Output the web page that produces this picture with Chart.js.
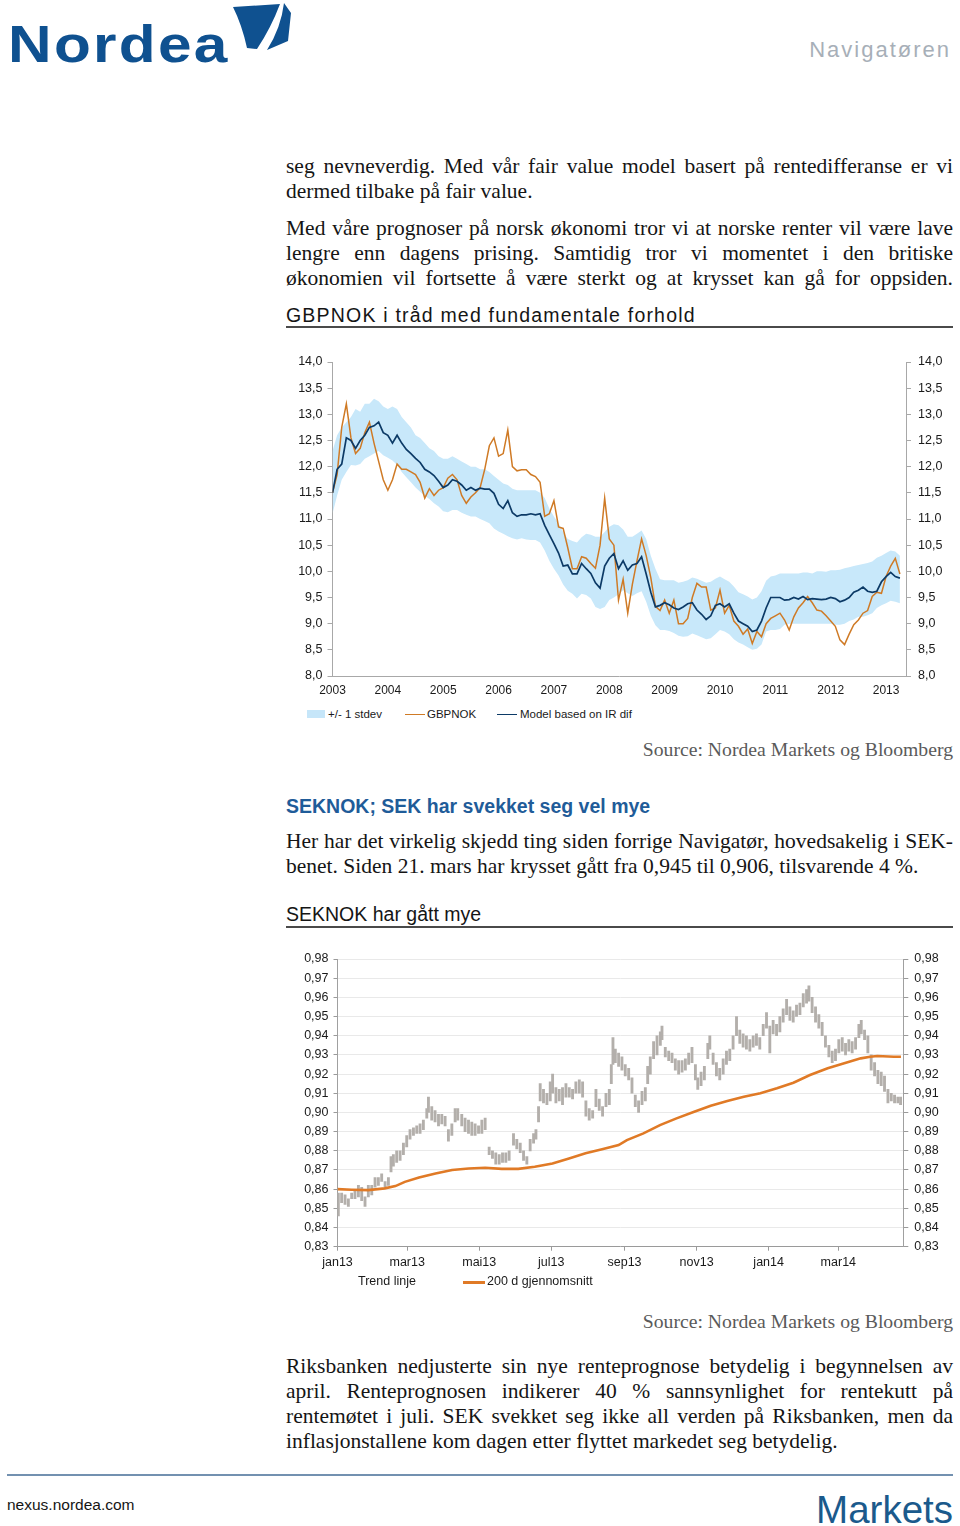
<!DOCTYPE html>
<html><head><meta charset="utf-8">
<script src="https://cdn.jsdelivr.net/npm/chart.js@4.4.1/dist/chart.umd.min.js"></script>
<style>
html,body{margin:0;padding:0;background:#fff;}
#page{position:relative;width:960px;height:1526px;overflow:hidden;font-family:'Liberation Sans',Arial,sans-serif;color:#151515;}
.abs{position:absolute;white-space:nowrap;}
.ser{font-family:'Liberation Serif','Times New Roman',serif;font-size:21.5px;line-height:25px;color:#151515;}
.j{left:286px;width:667px;}
.l{left:286px;}
.ttl{left:286px;font-size:19.5px;line-height:24px;color:#151515;}
.rule{position:absolute;left:286px;width:667px;height:1.5px;background:#4a4a4a;}
.src{right:7px;font-family:'Liberation Serif','Times New Roman',serif;font-size:19.7px;line-height:24px;color:#5a5a5a;}
.lg1{font-size:11.5px;line-height:14px;color:#1a1a1a;}
.lg2{font-size:12.5px;line-height:15px;color:#1a1a1a;}
canvas{position:absolute;}
</style></head>
<body><div id="page">
<div class="abs" style="left:8px;top:14px;font-size:52px;line-height:60px;font-weight:bold;color:#0f5190;letter-spacing:2px;transform:scaleX(1.16);transform-origin:left top;">Nordea</div>
<svg class="abs" style="left:0;top:0" width="300" height="60">
<path d="M233,7 L280,4 Q271,28 257,49 L247,48 Q242,25 233,7 Z" fill="#0f5190"/>
<path d="M284,3 L291,13 L288,41 L267,50 Q281,28 284,3 Z" fill="#0f5190"/>
</svg>
<div class="abs" style="right:9px;top:37px;font-size:22px;line-height:26px;color:#a7afb8;letter-spacing:2px;">Navigatøren</div>

<div class="abs ser j" style="top:154px">seg nevneverdig. Med vår fair value model basert på rentedifferanse er vi</div>
<div class="abs ser l" style="top:179px">dermed tilbake på fair value.</div>
<div class="abs ser j" style="top:216px">Med våre prognoser på norsk økonomi tror vi at norske renter vil være lave</div>
<div class="abs ser j" style="top:241px">lengre enn dagens prising. Samtidig tror vi momentet i den britiske</div>
<div class="abs ser j" style="top:266px">økonomien vil fortsette å være sterkt og at krysset kan gå for oppsiden.</div>

<div class="abs ttl" style="top:303px;letter-spacing:1.2px">GBPNOK i tråd med fundamentale forhold</div>
<div class="rule" style="top:326px"></div>

<canvas id="c1" width="670" height="360" style="left:280px;top:345px;width:670px;height:360px"></canvas>
<div class="abs" style="left:307px;top:710px;width:18px;height:8px;background:#c6e6f9"></div>
<div class="abs lg1" style="left:328px;top:707px">+/- 1 stdev</div>
<div class="abs" style="left:405px;top:713.5px;width:20px;height:1.3px;background:#cf7a25"></div>
<div class="abs lg1" style="left:427px;top:707px">GBPNOK</div>
<div class="abs" style="left:497px;top:713.5px;width:20px;height:1.3px;background:#0c3a66"></div>
<div class="abs lg1" style="left:520px;top:707px">Model based on IR dif</div>

<div class="abs src" style="top:737px">Source: Nordea Markets og Bloomberg</div>

<div class="abs ttl" style="top:794px;font-weight:bold;color:#1f5c99">SEKNOK; SEK har svekket seg vel mye</div>
<div class="abs ser j" style="top:829px">Her har det virkelig skjedd ting siden forrige Navigatør, hovedsakelig i SEK-</div>
<div class="abs ser l" style="top:854px">benet. Siden 21. mars har krysset gått fra 0,945 til 0,906, tilsvarende 4 %.</div>

<div class="abs ttl" style="top:902px">SEKNOK har gått mye</div>
<div class="rule" style="top:926px"></div>

<canvas id="c2" width="670" height="330" style="left:280px;top:945px;width:670px;height:330px"></canvas>
<div class="abs lg2" style="left:358px;top:1274px">Trend linje</div>
<div class="abs" style="left:463px;top:1281px;width:22px;height:2.6px;background:#e07a26"></div>
<div class="abs lg2" style="left:487px;top:1274px">200 d gjennomsnitt</div>

<div class="abs src" style="top:1309px">Source: Nordea Markets og Bloomberg</div>

<div class="abs ser j" style="top:1354px">Riksbanken nedjusterte sin nye renteprognose betydelig i begynnelsen av</div>
<div class="abs ser j" style="top:1379px">april. Renteprognosen indikerer 40 % sannsynlighet for rentekutt på</div>
<div class="abs ser j" style="top:1404px">rentemøtet i juli. SEK svekket seg ikke all verden på Riksbanken, men da</div>
<div class="abs ser l" style="top:1429px">inflasjonstallene kom dagen etter flyttet markedet seg betydelig.</div>

<div class="abs" style="left:7px;top:1474px;width:946px;height:2px;background:#7391b0"></div>
<div class="abs" style="left:7px;top:1496px;font-size:15.5px;line-height:18px;color:#151515">nexus.nordea.com</div>
<div class="abs" style="right:7px;top:1490px;font-size:38.5px;line-height:40px;color:#1b5a8c">Markets</div>
</div>
<script>
// ---------- Chart 1: GBPNOK (monthly readings, Jan 2003 onwards) ----------
const gbpStartYear = 2003;
const yearTicks1 = [2003,2004,2005,2006,2007,2008,2009,2010,2011,2012,2013];
const yTicks1 = [8,8.5,9,9.5,10,10.5,11,11.5,12,12.5,13,13.5,14];
const gbpnok = [11.5,11.85,12.75,13.2,12.55,12.25,12.35,12.65,12.85,12.45,12.1,11.75,
 11.55,11.75,12.05,11.95,11.95,11.9,11.85,11.7,11.4,11.58,11.45,11.55,
 11.6,11.78,11.85,11.75,11.45,11.3,11.42,11.5,11.6,11.95,12.4,12.55,
 12.2,12.25,12.7,12.0,11.92,11.94,11.94,11.85,11.81,11.7,11.05,11.1,
 11.35,10.85,10.82,10.45,10.05,10.05,10.28,10.25,10.15,10.06,10.5,11.4,
 10.62,10.5,9.45,9.85,9.2,9.75,10.2,10.62,10.3,9.88,9.33,9.25,
 9.45,9.2,9.45,9.0,9.0,9.1,9.5,9.77,9.7,9.7,9.26,9.3,
 9.64,9.2,9.35,9.05,8.95,8.8,8.9,8.62,8.85,8.75,9.0,9.1,
 9.15,9.2,9.07,8.88,9.13,9.3,9.4,9.52,9.4,9.26,9.24,9.15,
 9.05,8.95,8.69,8.6,8.8,8.98,9.07,9.2,9.25,9.52,9.6,9.58,
 9.9,10.1,10.25,9.95];
const model = [11.5,11.95,12.05,12.55,12.5,12.35,12.5,12.6,12.75,12.78,12.85,12.65,
 12.6,12.45,12.6,12.45,12.33,12.25,12.16,12.08,11.95,11.9,11.83,11.72,
 11.6,11.65,11.75,11.72,11.65,11.55,11.6,11.55,11.59,11.57,11.57,11.49,
 11.28,11.2,11.35,11.12,11.05,11.08,11.08,11.1,11.08,11.1,10.88,10.7,
 10.53,10.35,10.1,10.12,9.95,9.95,10.15,10.05,9.96,9.78,9.68,10.1,
 10.25,10.34,10.05,10.2,10.02,10.12,10.15,10.28,9.95,9.6,9.32,9.35,
 9.4,9.36,9.3,9.27,9.32,9.38,9.4,9.26,9.18,9.08,9.15,9.35,
 9.38,9.32,9.38,9.2,9.05,9.0,8.95,8.85,8.88,9.05,9.3,9.5,
 9.5,9.5,9.45,9.46,9.5,9.47,9.52,9.46,9.48,9.47,9.46,9.47,
 9.5,9.48,9.42,9.45,9.5,9.6,9.64,9.7,9.62,9.6,9.62,9.8,
 9.9,9.98,9.9,9.87];
const bandHi = [12.3,12.6,12.75,12.85,12.95,13.1,13.05,13.2,13.2,13.3,13.25,13.15,
 13.1,13.15,13.1,12.95,12.85,12.75,12.6,12.55,12.45,12.35,12.3,12.2,
 12.15,12.15,12.2,12.15,12.1,12.05,12.0,12.0,11.95,11.95,11.9,11.82,
 11.75,11.68,11.65,11.58,11.55,11.55,11.55,11.55,11.55,11.5,11.4,11.2,
 11.05,10.92,10.75,10.62,10.58,10.55,10.65,10.72,10.7,10.66,10.66,10.75,
 10.85,10.9,10.88,10.8,10.66,10.66,10.72,10.78,10.62,10.3,10.05,9.85,
 9.83,9.83,9.83,9.78,9.8,9.83,9.88,9.86,9.82,9.78,9.8,9.86,
 9.9,9.85,9.8,9.71,9.6,9.56,9.52,9.46,9.5,9.62,9.82,9.9,
 9.92,9.96,9.96,9.96,9.96,9.96,9.98,9.98,9.96,10.0,10.0,9.99,
 10.02,10.02,10.03,10.06,10.08,10.1,10.12,10.14,10.16,10.19,10.26,10.3,
 10.35,10.4,10.38,10.3];
const bandLo = [11.1,11.45,11.75,11.9,12.03,12.02,12.05,12.15,12.2,12.25,12.3,12.22,
 12.17,12.12,12.03,11.9,11.8,11.7,11.6,11.52,11.44,11.38,11.3,11.24,
 11.15,11.13,11.17,11.17,11.12,11.08,11.05,11.05,11.0,10.96,10.92,10.82,
 10.76,10.72,10.67,10.63,10.61,10.63,10.61,10.6,10.6,10.55,10.4,10.2,
 10.05,9.92,9.75,9.63,9.57,9.48,9.57,9.55,9.48,9.32,9.28,9.32,
 9.45,9.5,9.56,9.64,9.58,9.53,9.58,9.62,9.42,9.15,8.97,8.88,
 8.88,8.86,8.82,8.77,8.75,8.76,8.81,8.78,8.74,8.7,8.72,8.8,
 8.88,8.85,8.8,8.7,8.64,8.6,8.55,8.5,8.52,8.6,8.85,8.88,
 8.88,8.9,8.98,9.0,9.0,9.0,9.0,9.0,9.0,9.0,9.0,9.0,
 9.0,8.98,8.98,9.0,9.05,9.08,9.13,9.13,9.16,9.2,9.3,9.35,
 9.39,9.44,9.42,9.39];

// ---------- Chart 2: SEKNOK (days since 1 Jan 2013) ----------
const monthDays = [0,59,120,181,243,304,365,424];
const monthLabels = ['jan13','mar13','mai13','jul13','sep13','nov13','jan14','mar14'];
const yTicks2 = [0.83,0.84,0.85,0.86,0.87,0.88,0.89,0.90,0.91,0.92,0.93,0.94,0.95,0.96,0.97,0.98];
const sekDays = [0.7,3.5,6.4,9.2,12,14.8,17.7,20.5,23.3,26.1,29,31.8,34.6,37.4,40.3,43.1,45.3,47.3,50.1,53,55.8,58.6,61.4,64.3,67.1,69.9,72.7,75.6,77,79.8,82.6,85.5,88.3,91.1,93.9,96.8,99.6,101.8,105.2,108,110.9,113.7,116.5,119.4,122.2,125,128.4,131.2,134,136.9,139.7,142.5,145.3,149,151.8,154.7,157.5,160.3,163.1,166,168,170.2,171.6,174.4,177.3,180.1,182.1,184.9,187.7,190.5,193.4,196.2,199,201.8,204.7,207.5,210.3,213.1,216,218.8,221.6,224.4,227.3,230.1,231.8,233.2,235.2,238,240.8,243.6,246.5,249.3,252.1,254.9,257.8,260.6,262.6,264.8,267.6,270.5,273.3,274.7,277.5,280.4,283.2,286,288.8,291.7,294.5,297.3,300.1,303,305,307.8,310.6,313.5,315.2,318,320.8,323.6,326.5,329.3,332.1,334.9,337.8,340.6,343.4,346.2,349.1,351.9,354.7,357.5,360.4,363.2,366,368.8,371.7,374.5,377.3,380.2,383,385.8,388.6,391.5,394.3,397.1,399.1,401.8,404.7,407.5,410.3,413.1,416,418.8,421.6,424.4,427.3,430.1,432.9,435.7,438.6,441.4,443.4,446.2,449,451.8,454.7,457.5,460.3,463.1,466,468.8,471.6,474.4,476.7];
const sekLow = [.846,.853,.852,.851,.855,.855,.856,.854,.851,.856,.857,.861,.862,.864,.861,.862,.869,.872,.874,.875,.878,.882,.886,.888,.889,.889,.891,.897,.900,.896,.895,.893,.894,.893,.885,.888,.895,.896,.893,.890,.889,.888,.888,.889,.889,.891,.878,.876,.873,.873,.874,.874,.875,.883,.881,.879,.875,.873,.880,.884,.886,.895,.906,.905,.904,.906,.910,.905,.906,.904,.908,.908,.907,.910,.910,.908,.898,.896,.897,.903,.901,.898,.903,.904,.915,.925,.926,.924,.922,.919,.917,.910,.903,.900,.904,.906,.915,.920,.928,.930,.935,.938,.929,.927,.926,.922,.920,.921,.922,.925,.926,.917,.912,.914,.917,.928,.933,.925,.919,.917,.920,.925,.927,.933,.940,.936,.934,.933,.932,.934,.935,.933,.940,.944,.931,.941,.940,.942,.947,.951,.948,.947,.950,.951,.955,.957,.958,.952,.947,.944,.940,.934,.929,.926,.927,.931,.932,.930,.932,.931,.933,.939,.941,.938,.931,.922,.919,.915,.914,.911,.905,.906,.905,.905,.904];
const sekHigh = [.858,.858,.857,.855,.858,.859,.862,.861,.856,.862,.862,.866,.866,.868,.864,.866,.877,.878,.880,.880,.884,.888,.891,.892,.893,.894,.896,.902,.908,.903,.901,.899,.899,.898,.891,.894,.902,.902,.899,.897,.896,.895,.894,.893,.896,.897,.882,.880,.879,.878,.879,.879,.880,.889,.886,.884,.880,.877,.886,.889,.891,.903,.915,.912,.910,.916,.920,.913,.912,.913,.915,.913,.912,.916,.917,.916,.906,.902,.901,.912,.907,.903,.910,.912,.925,.939,.933,.931,.929,.925,.923,.918,.909,.906,.911,.913,.924,.929,.937,.940,.942,.945,.934,.932,.931,.928,.927,.927,.928,.931,.934,.925,.918,.921,.924,.936,.940,.931,.926,.923,.928,.932,.933,.940,.950,.943,.941,.940,.938,.940,.941,.939,.946,.952,.945,.948,.946,.950,.954,.959,.955,.953,.956,.957,.962,.964,.966,.960,.955,.951,.947,.940,.935,.932,.933,.938,.939,.936,.938,.937,.939,.946,.948,.943,.940,.930,.926,.922,.921,.919,.912,.910,.909,.908,.908];
const trendDays = [0,12,26,40,49,57,69,83,97,111,125,139,153,167,182,196,210,224,238,245,259,273,287,302,316,330,344,358,372,386,400,415,429,443,451,457,471,477];
const trendVals = [0.86,0.8597,0.8595,0.8604,0.8616,0.8638,0.8661,0.8682,0.87,0.8708,0.8712,0.8706,0.8706,0.8717,0.8734,0.876,0.8787,0.8808,0.883,0.8856,0.8891,0.8934,0.8969,0.9004,0.9035,0.906,0.9082,0.91,0.9126,0.9155,0.9195,0.923,0.9256,0.9282,0.929,0.9294,0.929,0.929];

// justify single lines exactly to 667px
document.querySelectorAll('.j').forEach(el=>{
  const sp=document.createElement('span'); sp.textContent=el.textContent; el.textContent=''; el.appendChild(sp);
  const w=sp.getBoundingClientRect().width; const n=(sp.textContent.match(/ /g)||[]).length;
  if(n) el.style.wordSpacing=((667-w)/n)+'px';
});

Chart.defaults.font.family="'Liberation Sans', Arial, sans-serif";
Chart.defaults.color='#1a1a1a';
const fmt1=v=>Number(v).toFixed(1).replace('.',',');
const fmt2=v=>Number(v).toFixed(2).replace('.',',');
const toXY=arr=>arr.map((v,i)=>({x:gbpStartYear+i/12,y:v}));
const axisCol='#a8a8a8';

new Chart(document.getElementById('c1'),{
  type:'line',
  data:{datasets:[
    {data:toXY(model),borderColor:'#0c3a66',borderWidth:1.7,pointRadius:0,fill:false,order:0},
    {data:toXY(gbpnok),borderColor:'#cf7a25',borderWidth:1.5,pointRadius:0,fill:false,order:1},
    {data:toXY(bandHi),borderWidth:0,borderColor:'rgba(0,0,0,0)',pointRadius:0,fill:'+1',backgroundColor:'#c8e8fa',order:2},
    {data:toXY(bandLo),borderWidth:0,borderColor:'rgba(0,0,0,0)',pointRadius:0,fill:false,order:3}
  ]},
  options:{responsive:false,animation:false,devicePixelRatio:1,
    layout:{padding:{top:17,left:0,right:0,bottom:0}},
    plugins:{legend:{display:false},tooltip:{enabled:false}},
    scales:{
      x:{type:'linear',min:2003,max:2013.36,
        afterBuildTicks:s=>{s.ticks=yearTicks1.map(v=>({value:v}));},
        afterFit:s=>{s.height=29;},
        grid:{display:false,drawTicks:false},border:{display:true,color:axisCol},
        ticks:{padding:7,font:{size:12},maxRotation:0,autoSkip:false,callback:v=>String(v)}},
      y:{position:'left',min:8,max:14,
        afterBuildTicks:s=>{s.ticks=yTicks1.map(v=>({value:v}));},
        afterFit:s=>{s.width=52.5;},
        grid:{drawOnChartArea:false,tickLength:5,color:axisCol},border:{color:axisCol},
        ticks:{padding:5,font:{size:12.5},callback:fmt1}},
      y2:{position:'right',min:8,max:14,
        afterBuildTicks:s=>{s.ticks=yTicks1.map(v=>({value:v}));},
        afterFit:s=>{s.width=44;},
        grid:{drawOnChartArea:false,tickLength:5,color:axisCol},border:{color:axisCol},
        ticks:{padding:7,font:{size:12.5},callback:fmt1}}
    }}
});

new Chart(document.getElementById('c2'),{
  type:'bar',
  data:{datasets:[
    {type:'line',data:trendDays.map((d,i)=>({x:d,y:trendVals[i]})),borderColor:'#e07a26',borderWidth:2.6,pointRadius:0,fill:false,order:0},
    {type:'bar',data:sekDays.map((d,i)=>({x:d,y:[sekLow[i],sekHigh[i]]})),backgroundColor:'#b3afab',barThickness:2.2,order:1}
  ]},
  options:{responsive:false,animation:false,devicePixelRatio:1,
    layout:{padding:{top:14,left:0,right:0,bottom:0}},
    plugins:{legend:{display:false},tooltip:{enabled:false}},
    scales:{
      x:{type:'linear',min:0,max:479,offset:false,
        afterBuildTicks:s=>{s.ticks=monthDays.map(v=>({value:v}));},
        afterFit:s=>{s.height=28.3;},
        grid:{offset:false,drawOnChartArea:false,tickLength:4,color:'#9a9a9a'},border:{color:'#9a9a9a'},
        ticks:{padding:4,font:{size:12.5},maxRotation:0,autoSkip:false,callback:(v,i)=>monthLabels[i]}},
      y:{position:'left',min:0.83,max:0.98,
        afterBuildTicks:s=>{s.ticks=yTicks2.map(v=>({value:v}));},
        afterFit:s=>{s.width=57.5;},
        grid:{color:'#e9e9e9',tickColor:'#9a9a9a',tickLength:4},border:{color:'#a0a0a0'},
        ticks:{padding:5,font:{size:12.5},callback:fmt2}},
      y2:{position:'right',min:0.83,max:0.98,
        afterBuildTicks:s=>{s.ticks=yTicks2.map(v=>({value:v}));},
        afterFit:s=>{s.width=46.7;},
        grid:{drawOnChartArea:false,tickLength:5,color:'#9a9a9a'},border:{color:'#a0a0a0'},
        ticks:{padding:6,font:{size:12.5},callback:fmt2}}
    }}
});
</script>
</body></html>
